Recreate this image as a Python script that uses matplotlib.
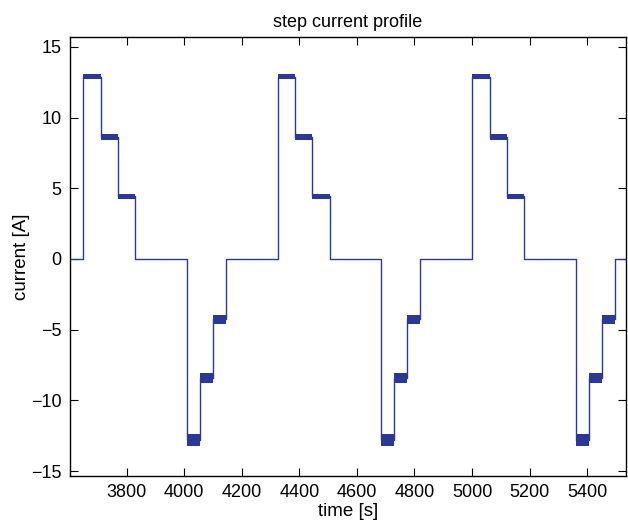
import matplotlib
matplotlib.use('Agg')
import matplotlib.pyplot as plt
import numpy as np

plt.rcParams['font.family'] = ['Liberation Sans', 'DejaVu Sans']

# data
t_begin = 3603
t_end = 5535
cycle_starts = [3649, 4325, 5001]
step_levels = [12.9, 8.63, 4.42, 0, -12.8, -8.4, -4.25, 0]
step_durations = [60, 60, 60, 180, 45, 45, 45, 180]
noise_halfwidth = [0.2, 0.2, 0.2, 0, 0.42, 0.36, 0.32, 0]

line_col = '#2a3898'

# build the step profile
t = [t_begin]
i_val = [0.0]
plateaus = []
for c0 in cycle_starts:
    t.append(c0)
    i_val.append(0.0)
    tt = c0
    for lvl, dur, hw in zip(step_levels, step_durations, noise_halfwidth):
        t1 = min(tt + dur, t_end)
        t += [tt, t1]
        i_val += [lvl, lvl]
        if hw > 0:
            plateaus.append((tt, t1, lvl, hw))
        tt = t1
t.append(t_end)
i_val.append(0.0)

fig = plt.figure(figsize=(6.28, 5.26), dpi=100)
ax = fig.add_axes([0.1115, 0.0951, 0.8853, 0.8346])

ax.plot(t, i_val, color=line_col, lw=1.0)
for t0, t1, lvl, hw in plateaus:
    ax.fill_between([t0, t1], [lvl - hw] * 2, [lvl + hw] * 2, color=line_col, lw=0)

ax.set_xlim(t_begin, t_end)
ax.set_ylim(-15.35, 15.7)
ax.set_xticks([3800, 4000, 4200, 4400, 4600, 4800, 5000, 5200, 5400])
ax.set_yticks([-15, -10, -5, 0, 5, 10, 15])
ax.tick_params(direction='in', top=True, right=True, length=6, labelsize=13, pad=6)
for s in ax.spines.values():
    s.set_linewidth(1.0)

ax.set_title('step current profile', fontsize=13, pad=7)
ax.set_xlabel('time [s]', fontsize=13.5, labelpad=1)
ax.set_ylabel('current [A]', fontsize=13.5, labelpad=1)

fig.savefig('out.png', dpi=100)
